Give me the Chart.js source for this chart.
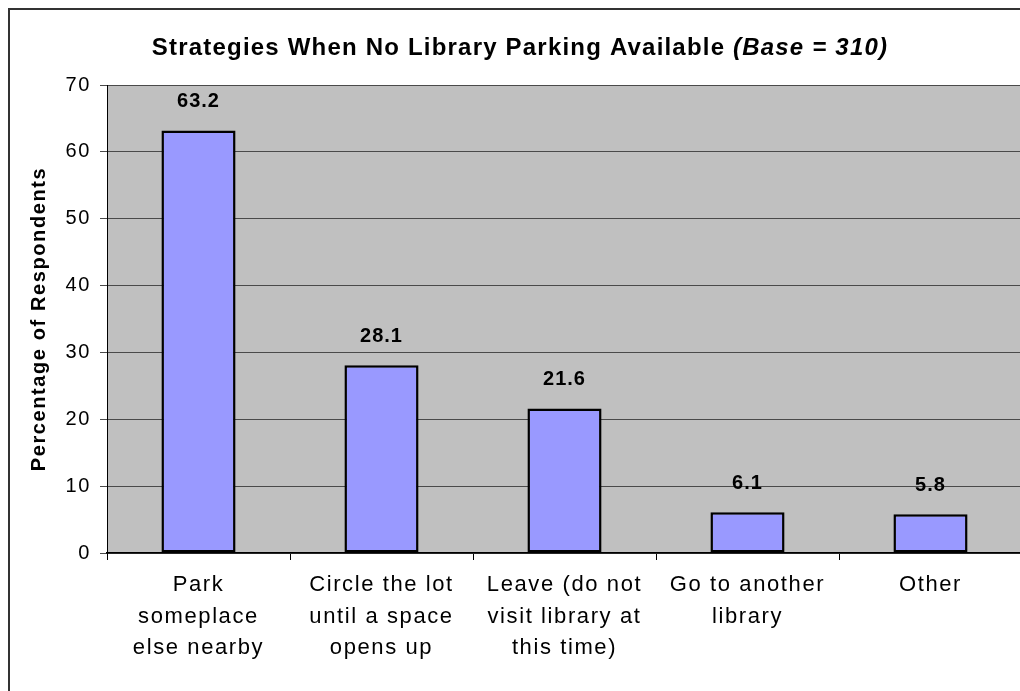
<!DOCTYPE html>
<html>
<head>
<meta charset="utf-8">
<script src="https://cdn.jsdelivr.net/npm/chart.js@4.4.1/dist/chart.umd.min.js"></script>
<style>
    html, body { margin: 0; padding: 0; background: #fff; overflow: hidden; }
    #frame {
        position: absolute; left: 8px; top: 8px;
        width: 1030px; height: 690px;
        border: 2px solid #333;
    }
    #chart { display: block; }
</style>
</head>
<body>
<div id="frame">
    <canvas id="chart" width="1030" height="690"></canvas>
</div>
<script>
// ========== DATA ==========
const categories = [
    ['Park', 'someplace', 'else nearby'],
    ['Circle the lot', 'until a space', 'opens up'],
    ['Leave (do not', 'visit library at', 'this time)'],
    ['Go to another', 'library'],
    ['Other']
];
const percentages = [63.2, 28.1, 21.6, 6.1, 5.8];
const yTicks = [0, 10, 20, 30, 40, 50, 60, 70];

const titleMain = 'Strategies When No Library Parking Available ';
const titleBase = '(Base = 310)';
const yAxisTitle = 'Percentage of Respondents';

const FONT = '"Liberation Sans", Arial, sans-serif';

// ========== PLUGINS ==========

// Gray plot area + wider letter spacing, like the original rendering
const backgroundPlugin = {
    id: 'plotBackground',
    beforeDraw(chart) {
        const {ctx, chartArea} = chart;
        ctx.letterSpacing = '1.6px';
        ctx.save();
        ctx.fillStyle = '#C0C0C0';
        ctx.fillRect(chartArea.left, chartArea.top,
            chartArea.right - chartArea.left, chartArea.bottom - chartArea.top);
        ctx.restore();
    }
};

// Title with a bold part and a bold italic part
const titlePlugin = {
    id: 'mixedTitle',
    afterDraw(chart) {
        const ctx = chart.ctx;
        ctx.save();
        ctx.letterSpacing = '1.2px';
        ctx.fillStyle = '#000';
        ctx.textBaseline = 'middle';
        ctx.textAlign = 'left';
        const f1 = 'bold 24px ' + FONT;
        const f2 = 'italic bold 24px ' + FONT;
        ctx.font = f1;
        const w1 = ctx.measureText(titleMain).width;
        ctx.font = f2;
        const w2 = ctx.measureText(titleBase).width;
        let x = 510 - (w1 + w2) / 2;
        const y = 38;
        ctx.font = f1;
        ctx.fillText(titleMain, x, y);
        ctx.font = f2;
        ctx.fillText(titleBase, x + w1, y);
        ctx.restore();
    }
};

// Value above each bar
const valueLabels = {
    id: 'valueLabels',
    afterDatasetsDraw(chart) {
        const ctx = chart.ctx;
        const meta = chart.getDatasetMeta(0);
        ctx.save();
        ctx.letterSpacing = '1px';
        ctx.font = 'bold 20px ' + FONT;
        ctx.fillStyle = '#000';
        ctx.textAlign = 'center';
        ctx.textBaseline = 'middle';
        meta.data.forEach((bar, i) => {
            ctx.fillText(percentages[i].toFixed(1), bar.x, bar.y - 29);
        });
        ctx.restore();
    }
};

// ========== CHART ==========

const ctx = document.getElementById('chart').getContext('2d');

new Chart(ctx, {
    type: 'bar',
    data: {
        labels: categories,
        datasets: [{
            data: percentages,
            backgroundColor: '#9999FF',
            borderColor: '#000',
            borderWidth: 2.5,
            borderSkipped: false,
            categoryPercentage: 1,
            barPercentage: 0.405
        }]
    },
    options: {
        responsive: false,
        animation: false,
        layout: {
            padding: {left: 0, right: 18, top: 75, bottom: 0}
        },
        scales: {
            x: {
                grid: {
                    display: true,
                    drawOnChartArea: false,
                    drawTicks: true,
                    tickLength: 7,
                    color: '#000',
                    offset: true
                },
                border: {color: '#000', width: 1.5},
                ticks: {
                    color: '#000',
                    font: {family: FONT, size: 22, lineHeight: 1.44},
                    padding: 9,
                    maxRotation: 0,
                    autoSkip: false
                },
                afterFit(scale) {
                    scale.height = 147;
                }
            },
            y: {
                min: 0,
                max: 70,
                afterBuildTicks(scale) {
                    scale.ticks = yTicks.map(v => ({value: v}));
                },
                grid: {
                    color: '#4a4a4a',
                    lineWidth: 1,
                    tickLength: 7,
                    tickColor: '#4a4a4a'
                },
                border: {color: '#000', width: 1},
                ticks: {
                    color: '#000',
                    font: {family: FONT, size: 20},
                    padding: 9
                },
                title: {
                    display: true,
                    text: yAxisTitle,
                    color: '#000',
                    font: {family: FONT, size: 20, weight: 'bold'},
                    padding: {top: 17, bottom: 0}
                },
                afterFit(scale) {
                    scale.width = 97;
                }
            }
        },
        plugins: {
            legend: {display: false},
            title: {display: false},
            tooltip: {enabled: false}
        }
    },
    plugins: [backgroundPlugin, titlePlugin, valueLabels]
});
</script>
</body>
</html>
